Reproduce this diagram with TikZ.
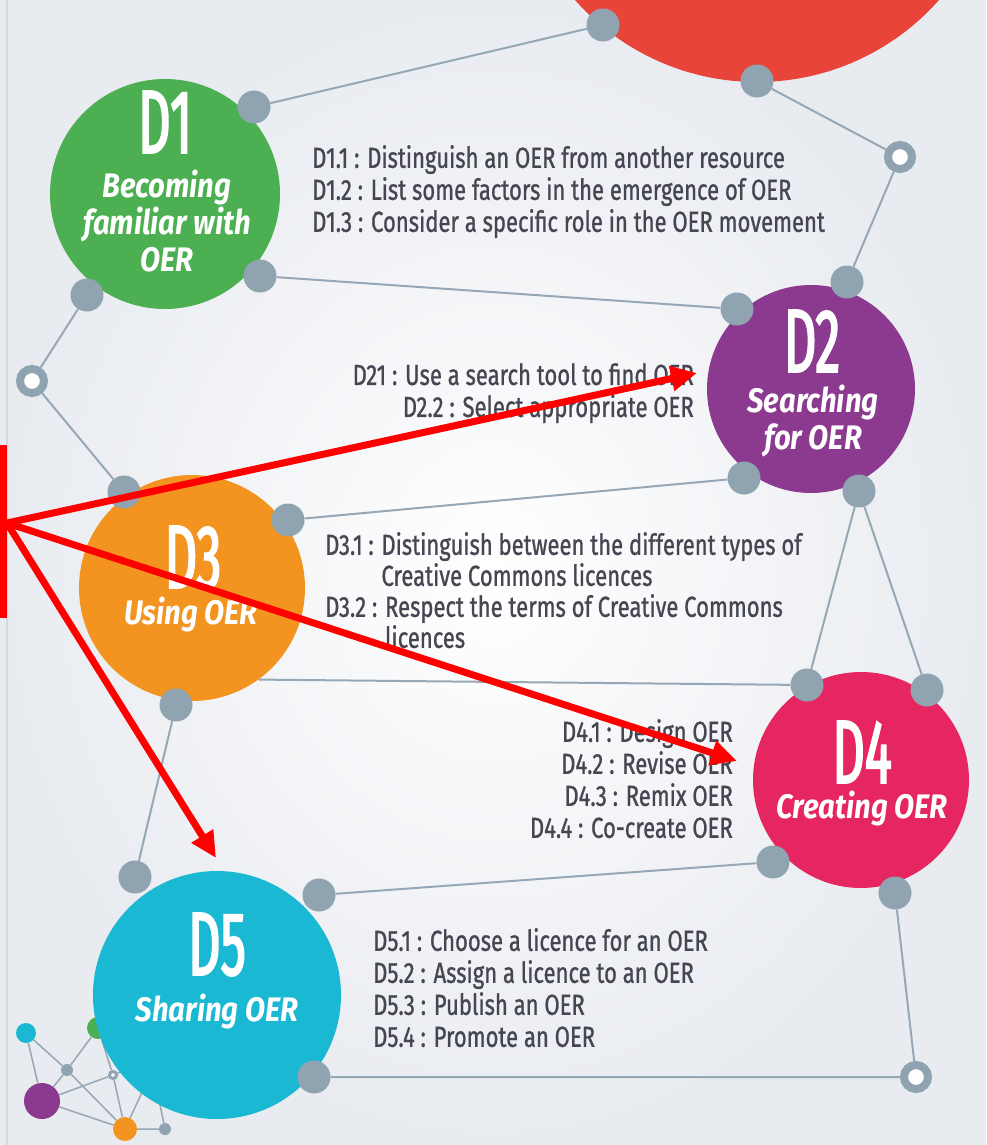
\documentclass[tikz,border=0pt]{standalone}
\usepackage{fontspec}
\setmainfont{Fira Sans}
\newfontfamily\itemfont[FakeStretch=0.76,FakeBold=0.9]{Fira Sans}
\newfontfamily\codefont[FakeStretch=0.56,FakeBold=2]{Fira Sans}
\newfontfamily\themefont[FakeStretch=0.86]{Fira Sans}
\usepackage{tikz}
\usetikzlibrary{arrows.meta}
\usetikzlibrary{backgrounds}
\usetikzlibrary{shapes}

\definecolor{oerred}{RGB}{232,68,58}
\definecolor{oergreen}{RGB}{76,175,82}
\definecolor{oerpurple}{RGB}{139,58,143}
\definecolor{oerorange}{RGB}{243,148,32}
\definecolor{oerpink}{RGB}{229,38,96}
\definecolor{oercyan}{RGB}{27,184,212}
\definecolor{dotgray}{RGB}{143,163,177}
\definecolor{linegray}{RGB}{150,168,182}
\definecolor{itemgray}{RGB}{70,70,82}
\definecolor{bggray}{RGB}{232,235,240}
\definecolor{bordergray}{RGB}{212,216,222}

\tikzset{
  skill/.style={circle, inner sep=0pt, minimum size=#1},
  dot/.style={circle, fill=dotgray, inner sep=0pt, minimum size=33pt},
  ring/.style={circle, draw=dotgray, fill=white, line width=8pt, inner sep=0pt, minimum size=24pt},
  link/.style={draw=linegray, line width=2pt},
  dcode/.style={text=white, inner sep=0pt, anchor=base, font=\codefont\fontsize{90}{90}\selectfont},
  theme/.style={text=white, inner sep=0pt, anchor=north, align=center, font=\themefont\bfseries\itshape\fontsize{34}{37}\selectfont},
  items/.style={text=itemgray, inner sep=0pt, font=\itemfont\fontsize{29}{32}\selectfont},
  pointer/.style={draw=red, line width=7pt, -{Triangle[length=26pt,width=24pt]}}
}

\begin{document}
\begin{tikzpicture}[x=1pt, y=-1pt]
  \useasboundingbox (0,0) rectangle (986,1145);
  \clip (0,0) rectangle (986,1145);

  % the five domains
  \node[skill=486pt, fill=oerred] (D0) at (757,-161) {};
  \node[skill=230pt, fill=oergreen] (D1) at (165,194) {};
  \node[skill=208pt, fill=oerpurple] (D2) at (811,389) {};
  \node[skill=226pt, fill=oerorange] (D3) at (192,588) {};
  \node[skill=216pt, fill=oerpink] (D4) at (861,780) {};

  % small network in the corner
  \node[skill=20pt, fill=oercyan] (n1) at (26,1033) {};
  \node[skill=22pt, fill=oergreen] (n2) at (98,1028) {};
  \node[skill=12pt, fill=dotgray] (n3) at (67,1070) {};
  \node[circle, draw=dotgray, fill=white, line width=3pt, inner sep=0pt, minimum size=7pt] (n4) at (113,1075) {};
  \node[skill=36pt, fill=oerpurple] (n5) at (42,1101) {};
  \node[skill=24pt, fill=oerorange] (n6) at (125,1129) {};
  \node[skill=12pt, fill=dotgray] (n7) at (165,1129) {};
  \coordinate (m1) at (150,1060);
  \coordinate (m2) at (157,1090);
  \coordinate (m3) at (150,1075);

  \node[skill=248pt, fill=oercyan] (D5) at (217,995) {};

  % joints
  \node[dot] (r1) at (603,25) {};
  \node[dot] (r2) at (757,81) {};
  \node[ring] (h1) at (900,157) {};
  \node[dot] (d1a) at (254,107) {};
  \node[dot] (d1b) at (260,276) {};
  \node[dot] (d1c) at (87,295) {};
  \node[ring] (h2) at (32,381) {};
  \node[dot] (d2a) at (847,282) {};
  \node[dot] (d2b) at (737,309) {};
  \node[dot] (d2c) at (744,478) {};
  \node[dot] (d2d) at (859,491) {};
  \node[dot] (d3a) at (124,492) {};
  \node[dot] (d3b) at (288,520) {};
  \node[dot] (d3c) at (176,705) {};
  \node[dot] (d4a) at (807,685) {};
  \node[dot] (d4b) at (927,690) {};
  \node[dot] (d4c) at (773,862) {};
  \node[dot] (d4d) at (895,893) {};
  \node[dot] (d5a) at (135,877) {};
  \node[dot] (d5b) at (319,895) {};
  \node[dot] (d5c) at (314,1077) {};
  \node[ring] (h3) at (916,1077) {};

  \begin{scope}[on background layer]
    \shade[inner color=white, outer color=bggray] (0,0) rectangle (986,1145);
    \draw[bordergray, line width=2pt] (7,0) -- (7,1145);
    \draw[link] (r1) -- (d1a);
    \draw[link] (r2) -- (h1) -- (d2a);
    \draw[link] (d1b) -- (d2b);
    \draw[link] (d1c) -- (h2) -- (d3a);
    \draw[link] (d3b) -- (d2c);
    \draw[link] (d4a) -- (d2d) -- (d4b);
    \draw[link] (D3.-54) -- (d4a);
    \draw[link] (d3c) -- (d5a);
    \draw[link] (d5b) -- (d4c);
    \draw[link] (d4d) -- (h3) -- (d5c);
    \draw[link, line width=1.5pt] (n1) -- (n3) -- (n2);
    \draw[link, line width=1.5pt] (n1) -- (n5) -- (n3) -- (n6);
    \draw[link, line width=1.5pt] (n2) -- (n4) -- (n6) -- (n5) -- (n4) -- (m1);
    \draw[link, line width=1.5pt] (n6) -- (n7) -- (m2);
    \draw[link, line width=1.5pt] (n6) -- (m3);
  \end{scope}

  % titles
  \node[dcode] (D1code) at (165,153) {D1};
  \node[theme] (D1theme) at (167,170) {Becoming\\familiar with\\OER};
  \node[dcode] (D2code) at (812,372) {D2};
  \node[theme] (D2theme) at (813,385) {Searching\\for OER};
  \node[dcode] (D3code) at (193,588) {D3};
  \node[theme] (D3theme) at (191,597) {Using OER};
  \node[dcode] (D4code) at (862,783) {D4};
  \node[theme] (D4theme) at (862,791) {Creating OER};
  \node[dcode] (D5code) at (217,975) {D5};
  \node[theme] (D5theme) at (217,994) {Sharing OER};

  % outcomes
  \node[items, anchor=north west, align=left] (D1items) at (312,145)
    {D1.1 : Distinguish an OER from another resource\\D1.2 : List some factors in the emergence of OER\\D1.3 : Consider a specific role in the OER movement};
  \node[items, anchor=north east, align=right] (D2items) at (694,363)
    {D21 : Use a search tool to find OER\\D2.2 : Select appropriate OER};
  \node[items, anchor=north west, align=left, font=\itemfont\fontsize{29}{31}\selectfont] (D3items) at (325,532)
    {D3.1 : Distinguish between the different types of\\\hphantom{D3.1 : }Creative Commons licences\\D3.2 : Respect the terms of Creative Commons\\\hphantom{D3.2 : }licences};
  \node[items, anchor=north east, align=right] (D4items) at (733,719)
    {D4.1 : Design OER\\D4.2 : Revise OER\\D4.3 : Remix OER\\D4.4 : Co-create OER};
  \node[items, anchor=north west, align=left] (D5items) at (373,928)
    {D5.1 : Choose a licence for an OER\\D5.2 : Assign a licence to an OER\\D5.3 : Publish an OER\\D5.4 : Promote an OER};

  % red pointers
  \node[fill=red, inner sep=0pt, minimum width=7pt, minimum height=173pt, anchor=north west] (bar) at (0,445) {};
  \coordinate (hub) at (7,523);
  \coordinate (tipD2) at (697,373);
  \coordinate (tipD4) at (737,761);
  \coordinate (tipD5) at (216,858);
  \draw[pointer] (hub) -- (tipD2);
  \draw[pointer] (hub) -- (tipD4);
  \draw[pointer] (hub) -- (tipD5);
\end{tikzpicture}
\end{document}
